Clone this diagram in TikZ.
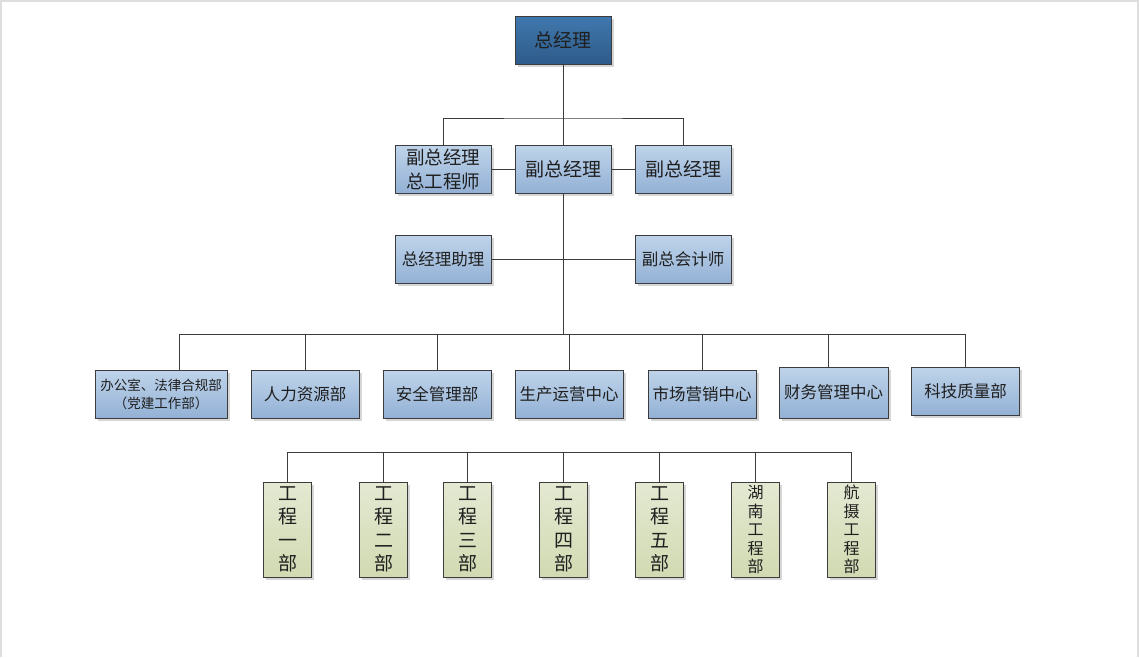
\documentclass[tikz,border=0pt]{standalone}
\usepackage{fontspec}
\setmainfont{Noto Sans CJK SC}
\usetikzlibrary{shadows}
\definecolor{dbA}{HTML}{4078AE}
\definecolor{dbB}{HTML}{2E5B8A}
\definecolor{lbA}{HTML}{BFD4EA}
\definecolor{lbB}{HTML}{93B1D5}
\definecolor{gnA}{HTML}{E4E9D2}
\definecolor{gnB}{HTML}{D1DAB2}
\definecolor{edge}{HTML}{3C3C3C}
\definecolor{frame}{HTML}{DEDEDE}
\begin{document}
\begin{tikzpicture}[x=1pt,y=-1pt,
  box/.style={draw=edge, line width=0.8pt, inner sep=0pt, align=center,
    text=black!88, font=\fontsize{16.5}{20}\selectfont,
    drop shadow={shadow xshift=2.5pt, shadow yshift=-2.5pt, fill=black!16, opacity=1}},
  topbox/.style={box, top color=dbA, bottom color=dbB, minimum width=96pt, minimum height=48pt,
    font=\fontsize{19}{22}\selectfont},
  bluebox/.style={box, top color=lbA, bottom color=lbB},
  mid/.style={bluebox, minimum width=96pt, minimum height=48pt},
  dept/.style={bluebox, minimum width=108pt, minimum height=48pt},
  proj/.style={box, top color=gnA, bottom color=gnB, minimum width=48pt, minimum height=95pt,
    font=\fontsize{19}{23.5}\selectfont},
  projs/.style={proj, font=\fontsize{16}{18.5}\selectfont},
  link/.style={draw=edge, line width=0.8pt}]
\useasboundingbox (0,0) rectangle (1139,657);
\draw[frame, line width=2pt] (1,657) -- (1,1) -- (1138,1) -- (1138,657);

% level 1
\node[topbox] (gm) at (563,40) {总经理};
% level 2
\node[mid, font=\fontsize{18.5}{24}\selectfont] (vp1) at (443,169) {副总经理\\总工程师};
\node[mid, font=\fontsize{19}{22}\selectfont] (vp2) at (563,169) {副总经理};
\node[mid, font=\fontsize{19}{22}\selectfont] (vp3) at (683,169) {副总经理};
\node[mid] (asst) at (443,259) {总经理助理};
\node[mid] (acct) at (683,259) {副总会计师};
% level 3
\node[bluebox, minimum width=132pt, minimum height=48pt, font=\fontsize{13.5}{18}\selectfont] (d1) at (161,394) {办公室、法律合规部\\（党建工作部）};
\node[dept] (d2) at (305,394) {人力资源部};
\node[dept] (d3) at (437,394) {安全管理部};
\node[dept] (d4) at (569,394) {生产运营中心};
\node[dept] (d5) at (702,394) {市场营销中心};
\node[dept, minimum width=109pt, minimum height=51pt] (d6) at (833.5,392.5) {财务管理中心};
\node[dept] (d7) at (965.5,391) {科技质量部};
% level 4
\node[proj] (p1) at (287.5,529.5) {工\\程\\一\\部};
\node[proj] (p2) at (383.5,529.5) {工\\程\\二\\部};
\node[proj] (p3) at (467.5,529.5) {工\\程\\三\\部};
\node[proj] (p4) at (563.5,529.5) {工\\程\\四\\部};
\node[proj] (p5) at (659.5,529.5) {工\\程\\五\\部};
\node[projs] (p6) at (755.5,529.5) {湖\\南\\工\\程\\部};
\node[projs] (p7) at (851.5,529.5) {航\\摄\\工\\程\\部};

% connectors level 1-2
\coordinate (b1) at (563,118);
\draw[link] (gm) -- (vp2);
\draw[link] (vp1.north) |- (b1) -| (vp3.north);
\draw[link] (vp1) -- (vp2);
\draw[link] (vp2) -- (vp3);
% level 2 - assistants
\coordinate (b3c) at (563,334);
\draw[link] (vp2) -- (b3c);
\draw[link] (asst) -- (acct);
% level 3 bus
\coordinate (b3l) at (179,334);
\coordinate (b3r) at (965.5,334);
\draw[link] (b3l) -- (b3r);
\draw[link] (b3l) -- (b3l |- d1.north);
\draw[link] (d2.north) -- (d2.north |- b3l);
\draw[link] (d3.north) -- (d3.north |- b3l);
\draw[link] (d4.north) -- (d4.north |- b3l);
\draw[link] (d5.north) -- (d5.north |- b3l);
\draw[link] ([xshift=-5.5pt]d6.north) -- ([xshift=-5.5pt]d6.north |- b3l);
\draw[link] (d7.north) -- (b3r);
% level 4 bus
\coordinate (b4l) at (287.5,452);
\coordinate (b4r) at (851.5,452);
\draw[link] (b4l) -- (b4r);
\foreach \p in {p1,p2,p3,p4,p5,p6,p7}
  \draw[link] (\p.north) -- (\p.north |- b4l);
\end{tikzpicture}
\end{document}
